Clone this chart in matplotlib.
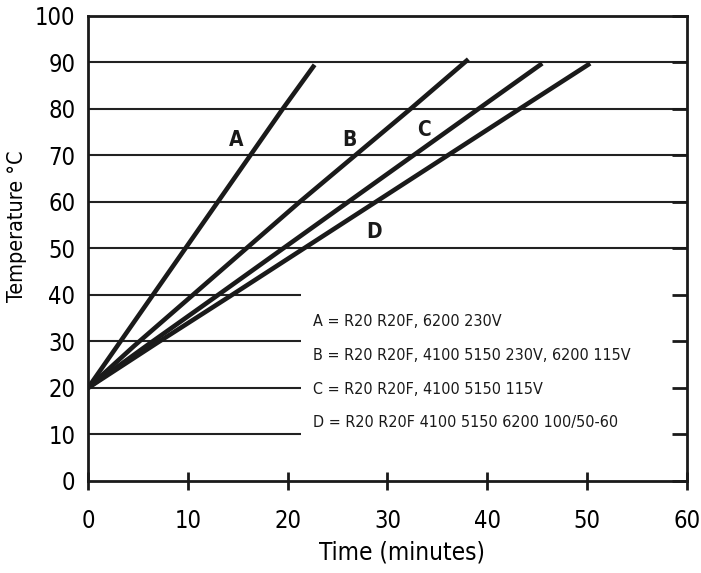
import matplotlib.pyplot as plt

plt.rcParams['font.family'] = ['DejaVu Sans']
plt.rcParams['font.stretch'] = 'condensed'

# heating curves (time in minutes, temperature in °C)
a_t = [0, 6.5, 13.0, 19.5, 22.7]
a_y = [20, 40, 60, 80, 89.5]
b_t = [0, 4.6, 10.5, 21.2, 32.3, 38.1]
b_y = [20, 29, 40, 60, 80, 90.7]
c_t = [0, 6.2, 12.7, 25.6, 38.9, 45.5]
c_y = [20, 29.6, 39.5, 59.3, 79.7, 89.8]
d_t = [0, 7.0, 14.2, 28.6, 43.0, 50.3]
d_y = [20, 29.8, 39.7, 59.7, 79.7, 89.8]

curve_names = ['A', 'B', 'C', 'D']
name_x = [14.8, 26.2, 33.7, 28.7]
name_y = [73.4, 73.4, 75.5, 53.5]

legend_lines = [
    'A = R20 R20F, 6200 230V',
    'B = R20 R20F, 4100 5150 230V, 6200 115V',
    'C = R20 R20F, 4100 5150 115V',
    'D = R20 R20F 4100 5150 6200 100/50-60',
]
legend_y = [34.2, 26.9, 19.6, 12.5]

grid_long = [50, 60, 70, 80, 90]
grid_short = [10, 20, 30, 40]
short_end = 21.3

fig = plt.figure(figsize=(7.01, 5.73), dpi=100)
ax = fig.add_axes([0.1255, 0.1606, 0.8545, 0.8115])

ax.hlines(grid_long, 0, 60, color='#222222', lw=1.5, zorder=1)
ax.hlines(grid_short, 0, short_end, color='#222222', lw=1.5, zorder=1)

for t, y in [(a_t, a_y), (b_t, b_y), (c_t, c_y), (d_t, d_y)]:
    ax.plot(t, y, color='#1a1a1a', lw=3.3, solid_capstyle='butt', zorder=3)

for n, x, y in zip(curve_names, name_x, name_y):
    ax.text(x, y, n, fontsize=15, fontweight='bold', ha='center', va='center', color='#1a1a1a')

for s, y in zip(legend_lines, legend_y):
    ax.text(22.5, y, s, fontsize=11.5, ha='left', va='center', color='#1a1a1a')

ax.set_xlim(0, 60)
ax.set_ylim(0, 100)
ax.set_xticks(range(0, 61, 10))
ax.set_yticks(range(0, 101, 10))

for sp in ax.spines.values():
    sp.set_linewidth(2)
    sp.set_color('#1a1a1a')

ax.tick_params(axis='x', direction='inout', length=12.5, width=2, labelsize=17, pad=14, color='#1a1a1a')
ax.tick_params(axis='y', left=False, right=True, direction='in', length=11, width=2,
               labelsize=17, pad=9, color='#1a1a1a')

ax.set_xlabel('Time (minutes)', fontsize=17.5, va='top')
ax.xaxis.set_label_coords(0.525, -0.127)
ax.set_ylabel('Temperature °C', fontsize=15.5)
ax.yaxis.set_label_coords(-0.102, 0.548)

fig.savefig('out.png', dpi=100)
